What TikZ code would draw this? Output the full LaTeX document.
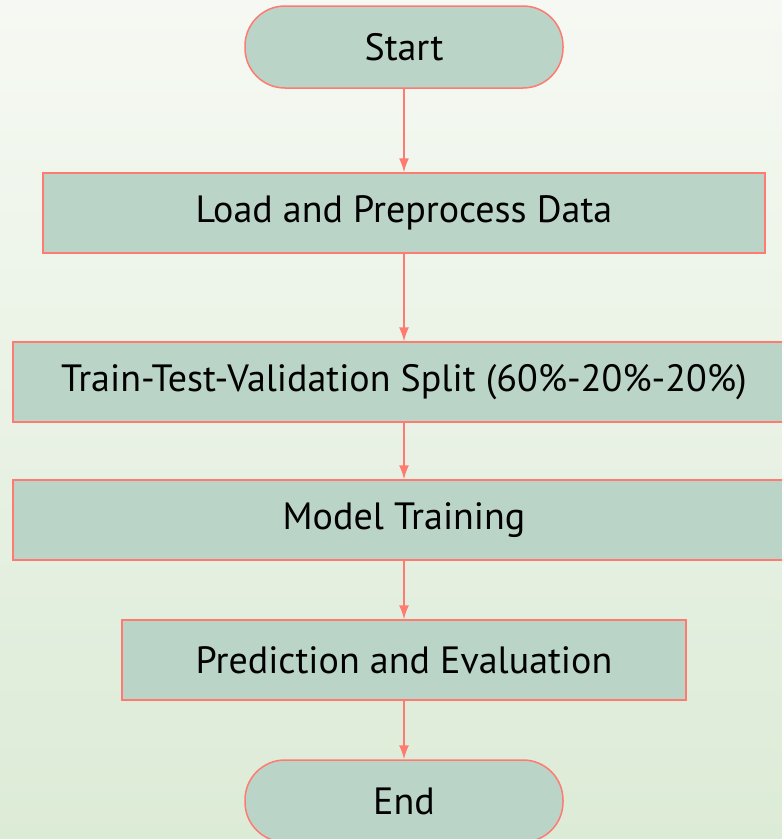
\documentclass[tikz,border=0pt]{standalone}
\usepackage{fontspec}
\setmainfont{PT Sans}
\usetikzlibrary{arrows.meta}
\definecolor{nodefill}{HTML}{BAD4C7}
\definecolor{edgecol}{HTML}{FF7B72}
\definecolor{bgtop}{HTML}{F6F9F3}
\definecolor{bgbot}{HTML}{DCEBD6}
\tikzset{
  box/.style={draw=edgecol, line width=1.5pt, fill=nodefill, minimum height=80pt, inner sep=0pt, font=\fontsize{38}{44}\selectfont, text=black},
  term/.style={box, rounded corners=40pt, minimum width=318pt, minimum height=82pt},
  flow/.style={draw=edgecol, line width=1.5pt, -{Latex[length=14pt,width=10pt]}}
}
\begin{document}
\begin{tikzpicture}[x=1pt,y=-1pt]
\useasboundingbox (0,0) rectangle (782,839);
\clip (0,0) rectangle (782,839);
\shade[top color=bgtop, bottom color=bgbot] (0,0) rectangle (782,839);
\node[term] (start) at (404,47) {Start};
\node[box, minimum width=722pt] (load) at (404,213) {Load and Preprocess Data};
\node[box, minimum width=782pt] (split) at (404,382) {Train-Test-Validation Split (60\%-20\%-20\%)};
\node[box, minimum width=782pt] (train) at (404,520) {Model Training};
\node[box, minimum width=564pt] (pred) at (404,660) {Prediction and Evaluation};
\node[term] (end) at (404,801) {End};
\draw[flow] (start) -- (load);
\draw[flow] (load) -- (split);
\draw[flow] (split) -- (train);
\draw[flow] (train) -- (pred);
\draw[flow] (pred) -- (end);
\end{tikzpicture}
\end{document}
